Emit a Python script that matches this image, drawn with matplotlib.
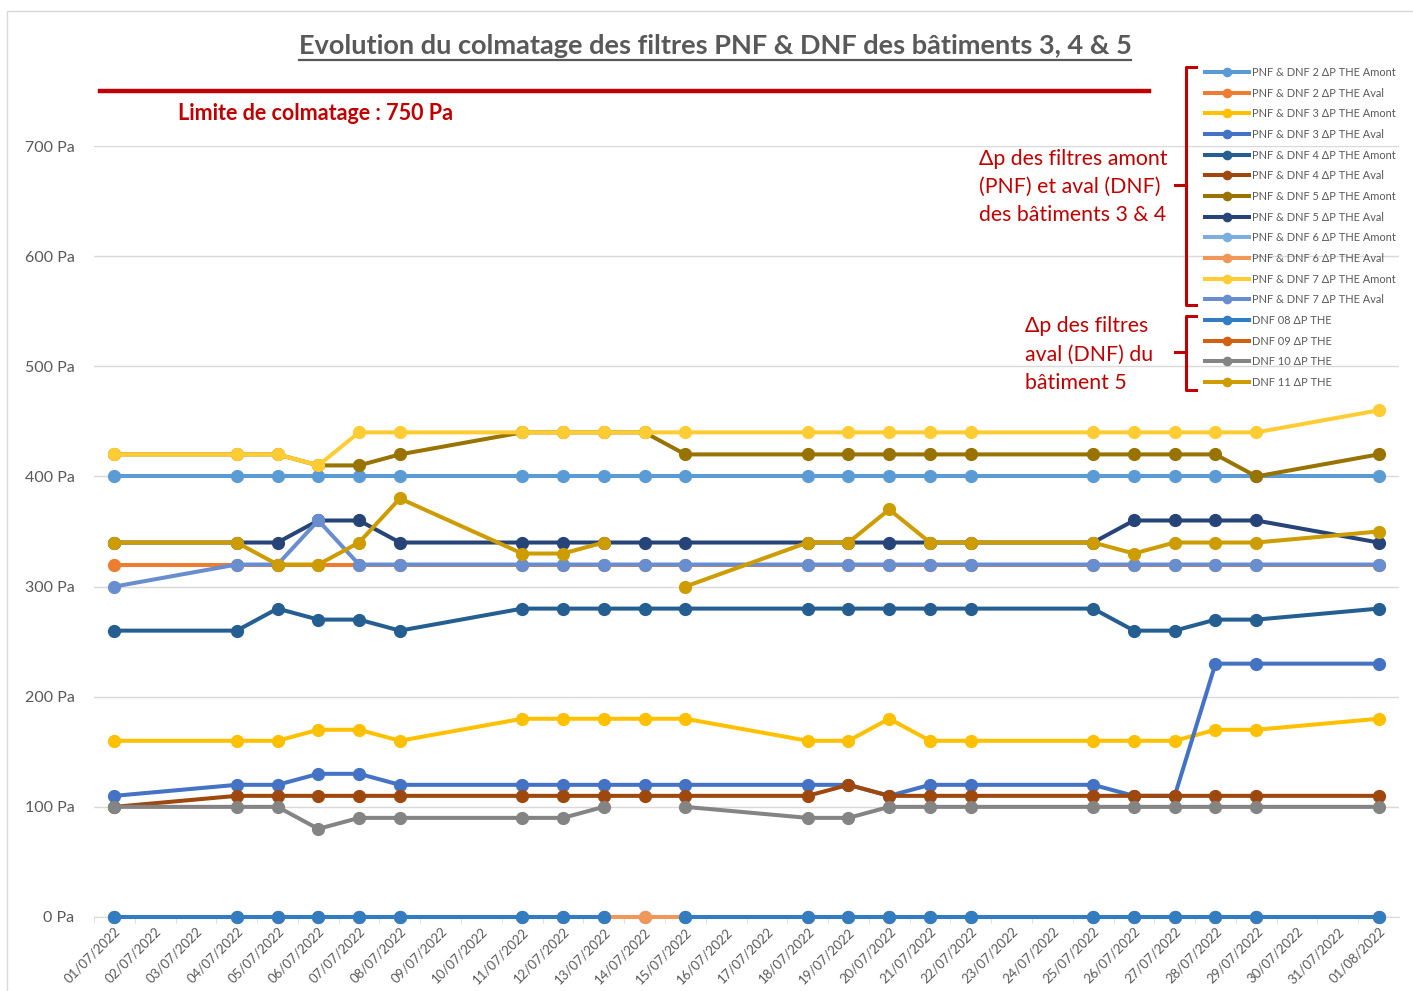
import numpy as np
import pandas as pd
import matplotlib
matplotlib.use("Agg")
import matplotlib.pyplot as plt
from matplotlib.lines import Line2D
from matplotlib.patches import Rectangle

plt.rcParams['font.family'] = ['Lato', 'DejaVu Sans']

# measurement dates
dates = ['01/07/2022', '04/07/2022', '05/07/2022', '06/07/2022', '07/07/2022', '08/07/2022',
         '11/07/2022', '12/07/2022', '13/07/2022', '14/07/2022', '15/07/2022', '18/07/2022',
         '19/07/2022', '20/07/2022', '21/07/2022', '22/07/2022', '25/07/2022', '26/07/2022',
         '27/07/2022', '28/07/2022', '29/07/2022', '01/08/2022']
nan = np.nan

pnf2_amont = [400, 400, 400, 400, 400, 400, 400, 400, 400, 400, 400, 400, 400, 400, 400, 400, 400, 400, 400, 400, 400, 400]
pnf2_aval = [320, 320, 320, 320, 320, 320, 320, 320, 320, 320, 320, 320, 320, 320, 320, 320, 320, 320, 320, 320, 320, 320]
pnf3_amont = [160, 160, 160, 170, 170, 160, 180, 180, 180, 180, 180, 160, 160, 180, 160, 160, 160, 160, 160, 170, 170, 180]
pnf3_aval = [110, 120, 120, 130, 130, 120, 120, 120, 120, 120, 120, 120, 120, 110, 120, 120, 120, 110, 110, 230, 230, 230]
pnf4_amont = [260, 260, 280, 270, 270, 260, 280, 280, 280, 280, 280, 280, 280, 280, 280, 280, 280, 260, 260, 270, 270, 280]
pnf4_aval = [100, 110, 110, 110, 110, 110, 110, 110, 110, 110, 110, 110, 120, 110, 110, 110, 110, 110, 110, 110, 110, 110]
pnf5_amont = [420, 420, 420, 410, 410, 420, 440, 440, 440, 440, 420, 420, 420, 420, 420, 420, 420, 420, 420, 420, 400, 420]
pnf5_aval = [340, 340, 340, 360, 360, 340, 340, 340, 340, 340, 340, 340, 340, 340, 340, 340, 340, 360, 360, 360, 360, 340]
pnf6_amont = [0, 0, 0, 0, 0, 0, 0, 0, 0, 0, 0, 0, 0, 0, 0, 0, 0, 0, 0, 0, 0, 0]
pnf6_aval = [0, 0, 0, 0, 0, 0, 0, 0, 0, 0, 0, 0, 0, 0, 0, 0, 0, 0, 0, 0, 0, 0]
pnf7_amont = [420, 420, 420, 410, 440, 440, 440, 440, 440, 440, 440, 440, 440, 440, 440, 440, 440, 440, 440, 440, 440, 460]
pnf7_aval = [300, 320, 320, 360, 320, 320, 320, 320, 320, 320, 320, 320, 320, 320, 320, 320, 320, 320, 320, 320, 320, 320]
dnf08 = [0, 0, 0, 0, 0, 0, 0, 0, 0, nan, 0, 0, 0, 0, 0, 0, 0, 0, 0, 0, 0, 0]
dnf09 = [nan] * 22
dnf10 = [100, 100, 100, 80, 90, 90, 90, 90, 100, nan, 100, 90, 90, 100, 100, 100, 100, 100, 100, 100, 100, 100]
dnf11 = [340, 340, 320, 320, 340, 380, 330, 330, 340, nan, 300, 340, 340, 370, 340, 340, 340, 330, 340, 340, 340, 350]

limit = 750

series = [
    ("PNF & DNF 2 ΔP THE Amont", pnf2_amont, "#5B9BD5"),
    ("PNF & DNF 2 ΔP THE Aval", pnf2_aval, "#ED7D31"),
    ("PNF & DNF 3 ΔP THE Amont", pnf3_amont, "#FFC000"),
    ("PNF & DNF 3 ΔP THE Aval", pnf3_aval, "#4472C4"),
    ("PNF & DNF 4 ΔP THE Amont", pnf4_amont, "#255E91"),
    ("PNF & DNF 4 ΔP THE Aval", pnf4_aval, "#9E480E"),
    ("PNF & DNF 5 ΔP THE Amont", pnf5_amont, "#997300"),
    ("PNF & DNF 5 ΔP THE Aval", pnf5_aval, "#264478"),
    ("PNF & DNF 6 ΔP THE Amont", pnf6_amont, "#7CAFDD"),
    ("PNF & DNF 6 ΔP THE Aval", pnf6_aval, "#F1975A"),
    ("PNF & DNF 7 ΔP THE Amont", pnf7_amont, "#FFCD33"),
    ("PNF & DNF 7 ΔP THE Aval", pnf7_aval, "#698ED0"),
    ("DNF 08 ΔP THE", dnf08, "#327DC2"),
    ("DNF 09 ΔP THE", dnf09, "#D26012"),
    ("DNF 10 ΔP THE", dnf10, "#848484"),
    ("DNF 11 ΔP THE", dnf11, "#CC9C00"),
]

x = pd.to_datetime(dates, dayfirst=True)

W, H = 1413, 991
fig = plt.figure(figsize=(W / 100, H / 100), dpi=100)

def fx(px):
    return px / W

def fy(py):
    return 1 - py / H

# chart border
fig.add_artist(Rectangle((fx(7), fy(995)), fx(1420), fy(11) - fy(995), transform=fig.transFigure,
                         fill=False, edgecolor="#D9D9D9", lw=1))

ax = fig.add_axes([fx(94), fy(917), fx(1399) - fx(94), fy(146) - fy(917)])

for i, (name, vals, col) in enumerate(series):
    ax.plot(x, vals, color=col, lw=2.9, marker='o', ms=8.5, mec=col, mfc=col, label=name,
            zorder=3 + i * 0.01, clip_on=False)

ax.set_ylim(0, 700)
ax.set_yticks(range(0, 701, 100))
ax.set_yticklabels([f"{v} Pa" for v in range(0, 701, 100)])
ax.set_xlim(pd.Timestamp("2022-06-30 12:00"), pd.Timestamp("2022-08-01 12:00"))
days = pd.date_range("2022-07-01", "2022-08-01", freq="D")
ax.set_xticks(days)
ax.set_xticklabels([d.strftime("%d/%m/%Y") for d in days])
ax.set_xticks(days - pd.Timedelta(hours=12), minor=True)
ax.tick_params(axis='x', which='major', length=0, pad=6, labelsize=9.5, labelcolor="#595959")
ax.tick_params(axis='x', which='minor', length=4, color="#D9D9D9", direction='out')
for lab in ax.get_xticklabels():
    lab.set_rotation(45)
    lab.set_ha('right')
    lab.set_rotation_mode('anchor')
ax.tick_params(axis='y', length=0, pad=14, labelsize=11.5, labelcolor="#595959")
ax.grid(axis='y', color="#D9D9D9", lw=1)
ax.set_axisbelow(True)
for s in ['top', 'right', 'left']:
    ax.spines[s].set_visible(False)
ax.spines['bottom'].set_color("#D9D9D9")

# limit line
ax.axhline(limit, xmin=(100 - 94) / 1305, xmax=(1149 - 94) / 1305, color="#C00000", lw=3.2, clip_on=False)
fig.text(fx(316), fy(113.5), "Limite de colmatage : 750 Pa", color="#C00000", fontsize=15.5,
         fontweight='bold', ha='center', va='center')

# title
title = fig.text(fx(715), fy(46), "Evolution du colmatage des filtres PNF & DNF des bâtiments 3, 4 & 5",
                 color="#595959", fontsize=19.5, fontweight='bold', ha='center', va='center')
fig.canvas.draw()
bb = title.get_window_extent()
fig.add_artist(Line2D([bb.x0 / W, bb.x1 / W], [fy(60), fy(60)], transform=fig.transFigure,
                      color="#595959", lw=1.6))

# legend
leg = ax.legend(loc='upper left', bbox_to_anchor=(fx(1205), fy(67)), bbox_transform=fig.transFigure,
                frameon=False, fontsize=7.9, labelcolor="#595959", handlelength=4.0,
                handletextpad=0.3, labelspacing=0.88, borderpad=0, borderaxespad=0, markerscale=0.7)

# brackets and annotations
red = "#C00000"
def bracket(top, bottom, mid):
    fig.add_artist(Line2D([fx(1196), fx(1186), fx(1186), fx(1196)], [fy(top), fy(top), fy(bottom), fy(bottom)],
                          transform=fig.transFigure, color=red, lw=2.2))
    fig.add_artist(Line2D([fx(1175), fx(1186)], [fy(mid), fy(mid)], transform=fig.transFigure, color=red, lw=2.2))

bracket(67, 305, 185)
bracket(316, 390, 352)
fig.text(fx(979), fy(187), "Δp des filtres amont\n(PNF) et aval (DNF)\ndes bâtiments 3 & 4", color=red,
         fontsize=15.3, ha='left', va='center', linespacing=1.53)
fig.text(fx(1025), fy(354.5), "Δp des filtres\naval (DNF) du\nbâtiment 5", color=red,
         fontsize=15.3, ha='left', va='center', linespacing=1.53)

fig.savefig("out.png", dpi=100)
